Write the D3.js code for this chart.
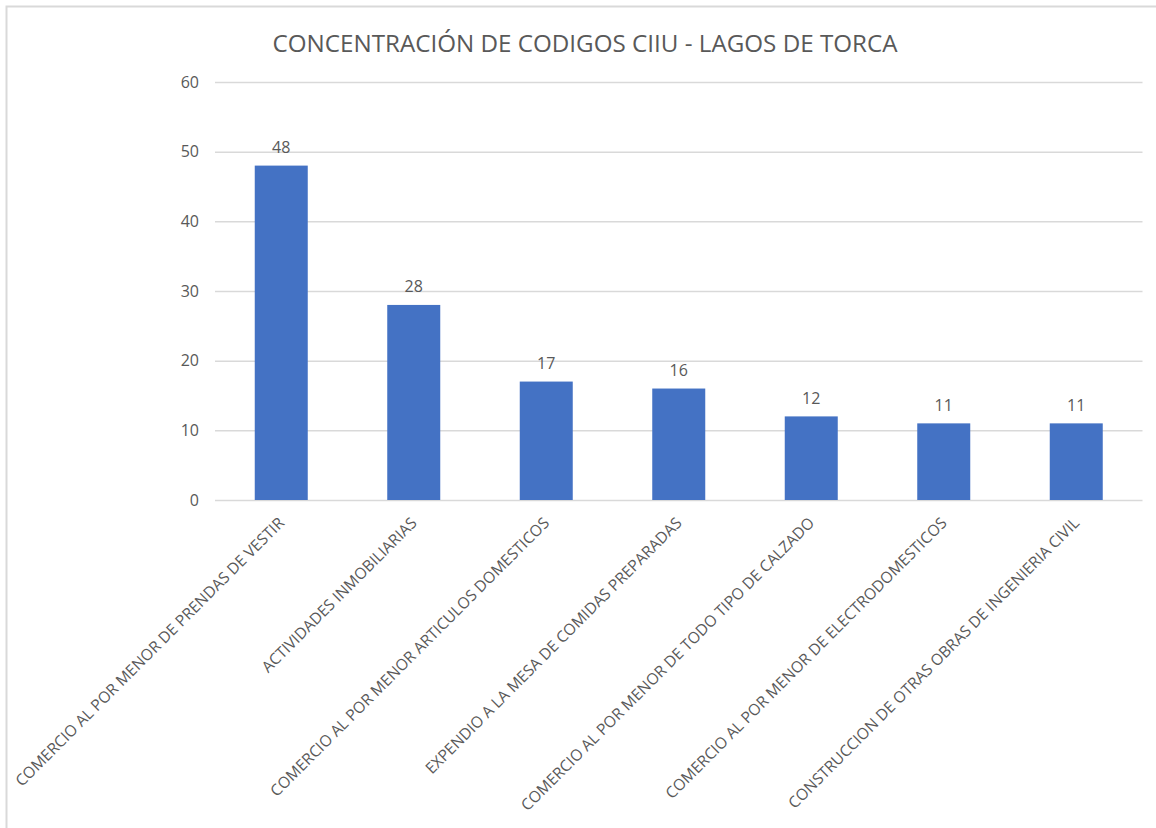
<!DOCTYPE html>
<html>
<head>
<meta charset="utf-8">
<script src="https://cdn.jsdelivr.net/npm/d3@7"></script>
<style>
  html, body { margin: 0; padding: 0; background: #fff; }
  svg { display: block; font-family: "Open Sans", "Noto Sans", sans-serif; }
</style>
</head>
<body>
<svg id="chart" width="1156" height="828"></svg>
<script>
// CIIU activity categories and their counts
const categories = [
  "COMERCIO AL POR MENOR DE PRENDAS DE VESTIR",
  "ACTIVIDADES INMOBILIARIAS",
  "COMERCIO AL POR MENOR ARTICULOS DOMESTICOS",
  "EXPENDIO A LA MESA DE COMIDAS PREPARADAS",
  "COMERCIO AL POR MENOR DE TODO TIPO DE CALZADO",
  "COMERCIO AL POR MENOR DE ELECTRODOMESTICOS",
  "CONSTRUCCION DE OTRAS OBRAS DE INGENIERIA CIVIL"
];
const counts = [48, 28, 17, 16, 12, 11, 11];
const yTicks = [0, 10, 20, 30, 40, 50, 60];
const title = "CONCENTRACIÓN DE CODIGOS CIIU - LAGOS DE TORCA";

const W = 1156, H = 828;
const plot = { left: 215, right: 1142.5, top: 82, bottom: 500 };
const textColor = "#595959";

const svg = d3.select("#chart");

// outer frame (top and left edges visible)
svg.append("path")
  .attr("d", `M6.5,${H} V6.5 H${W}`)
  .attr("fill", "none")
  .attr("stroke", "#d9d9d9")
  .attr("stroke-width", 2);

const x = d3.scaleBand()
  .domain(categories)
  .range([plot.left, plot.right])
  .paddingInner(0.6)
  .paddingOuter(0.3);

const y = d3.scaleLinear()
  .domain([0, 60])
  .range([plot.bottom, plot.top]);

// title
svg.append("text")
  .attr("x", 585)
  .attr("y", 52)
  .attr("text-anchor", "middle")
  .attr("fill", textColor)
  .attr("font-size", 24.2)
  .text(title);

// horizontal gridlines + value labels
const yAxis = d3.axisLeft(y)
  .tickValues(yTicks)
  .tickSize(-(plot.right - plot.left))
  .tickPadding(16)
  .tickFormat(d3.format("d"));

const gy = svg.append("g")
  .attr("transform", `translate(${plot.left},0)`)
  .call(yAxis);
gy.select(".domain").remove();
gy.selectAll(".tick line")
  .attr("stroke", "#d9d9d9")
  .attr("stroke-width", 1.5);
gy.selectAll(".tick text")
  .attr("fill", textColor)
  .attr("font-size", 16)
  .attr("font-family", "\"Open Sans\", sans-serif");

// bars
svg.append("g")
  .selectAll("rect")
  .data(categories)
  .join("rect")
  .attr("x", d => x(d))
  .attr("y", (d, i) => y(counts[i]))
  .attr("width", x.bandwidth())
  .attr("height", (d, i) => y(0) - y(counts[i]))
  .attr("fill", "#4472c4");

// data labels
svg.append("g")
  .selectAll("text")
  .data(categories)
  .join("text")
  .attr("x", d => x(d) + x.bandwidth() / 2)
  .attr("y", (d, i) => y(counts[i]) - 12.5)
  .attr("text-anchor", "middle")
  .attr("fill", textColor)
  .attr("font-size", 16)
  .text((d, i) => counts[i]);

// rotated category labels
const xAxis = d3.axisBottom(x).tickSize(0).tickPadding(0);
const gx = svg.append("g")
  .attr("transform", `translate(0,${plot.bottom})`)
  .call(xAxis);
gx.select(".domain").remove();
gx.selectAll(".tick text")
  .attr("fill", textColor)
  .attr("font-size", 15.6)
  .attr("font-family", "\"Open Sans\", sans-serif")
  .attr("text-anchor", "end")
  .attr("dy", 0)
  .attr("y", 0)
  .attr("transform", "translate(4,24) rotate(-45)");
</script>
</body>
</html>
